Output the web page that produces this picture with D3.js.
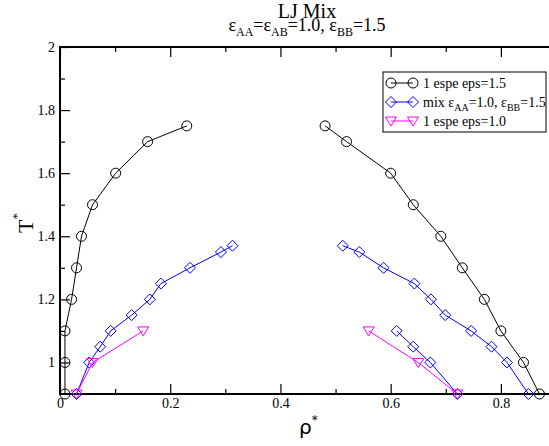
<!DOCTYPE html>
<html>
<head>
<meta charset="utf-8">
<script src="https://cdn.jsdelivr.net/npm/d3@7"></script>
<style>
  body { margin: 0; background: #fff; }
  svg { display: block; }
</style>
</head>
<body>
<div id="chart"></div>
<script>
// ticks
const xMajorTicks = [0, 0.2, 0.4, 0.6, 0.8];
const xMinorTicks = [0.1, 0.3, 0.5, 0.7];
const yMajorTicks = [1, 1.2, 1.4, 1.6, 1.8, 2];
const yMinorTicks = [1.1, 1.3, 1.5, 1.7, 1.9];

// 1 espe eps=1.5 (vapour / liquid branches)
const rhoEps15Low  = [0.009, 0.009, 0.009, 0.021, 0.030, 0.039, 0.059, 0.101, 0.159, 0.230];
const tEps15Low    = [0.90, 1.00, 1.10, 1.20, 1.30, 1.40, 1.50, 1.60, 1.70, 1.75];
const rhoEps15High = [0.481, 0.520, 0.600, 0.641, 0.691, 0.730, 0.770, 0.800, 0.841, 0.870];
const tEps15High   = [1.75, 1.70, 1.60, 1.50, 1.40, 1.30, 1.20, 1.10, 1.00, 0.90];

// mix eps_AA=1.0, eps_BB=1.5
const rhoMixLow   = [0.030, 0.053, 0.073, 0.092, 0.130, 0.163, 0.183, 0.236, 0.292, 0.313];
const tMixLow     = [0.90, 1.00, 1.05, 1.10, 1.15, 1.20, 1.25, 1.30, 1.35, 1.37];
const rhoMixHigh  = [0.513, 0.543, 0.587, 0.643, 0.673, 0.699, 0.746, 0.783, 0.811, 0.850];
const tMixHigh    = [1.37, 1.35, 1.30, 1.25, 1.20, 1.15, 1.10, 1.05, 1.00, 0.90];
const rhoMixHigh2 = [0.611, 0.641, 0.672, 0.721];
const tMixHigh2   = [1.10, 1.05, 1.00, 0.90];

// 1 espe eps=1.0
const rhoEps10Low  = [0.030, 0.059, 0.151];
const tEps10Low    = [0.90, 1.00, 1.10];
const rhoEps10High = [0.560, 0.650, 0.721];
const tEps10High   = [1.10, 1.00, 0.90];

const zip = (xs, ys) => xs.map((v, i) => ({ rho: v, t: ys[i] }));

const series = [
    { color: "#000000", symbol: "circle",
      branches: [zip(rhoEps15Low, tEps15Low), zip(rhoEps15High, tEps15High)] },
    { color: "#0000ff", symbol: "diamond",
      branches: [zip(rhoMixLow, tMixLow), zip(rhoMixHigh, tMixHigh), zip(rhoMixHigh2, tMixHigh2)] },
    { color: "#ff00ff", symbol: "triangle",
      branches: [zip(rhoEps10Low, tEps10Low), zip(rhoEps10High, tEps10High)] }
];

const W = 549, H = 446;
const margin = { left: 60, top: 47, right: 556, bottom: 394 }; // plot box edges (right edge falls outside the window)

const svg = d3.select("#chart").append("svg")
    .attr("width", W).attr("height", H)
    .style("font-family", "'Liberation Serif', 'Times New Roman', serif");

const x = d3.scaleLinear().domain([0, 0.9]).range([margin.left, margin.right]);
const y = d3.scaleLinear().domain([0.9, 2]).range([margin.bottom, margin.top]);

// 坐标轴 (ticks pointing inward)
const styleAxis = g => {
    g.select(".domain").remove();
    g.selectAll(".tick line").attr("stroke", "#000").attr("stroke-width", 1.2);
    g.selectAll(".tick text").attr("fill", "#000").style("font-size", "14px")
        .style("font-family", "'Liberation Serif', serif");
};

svg.append("g").attr("transform", `translate(0,${margin.bottom})`)
    .call(d3.axisBottom(x).tickValues(xMajorTicks).tickSizeInner(-10).tickSizeOuter(0)
        .tickPadding(4).tickFormat(d3.format("")))
    .call(styleAxis);
svg.append("g").attr("transform", `translate(0,${margin.bottom})`)
    .call(d3.axisBottom(x).tickValues(xMinorTicks).tickSizeInner(-5).tickSizeOuter(0).tickFormat(""))
    .call(styleAxis);
svg.append("g").attr("transform", `translate(0,${margin.top})`)
    .call(d3.axisTop(x).tickValues(xMajorTicks).tickSizeInner(-10).tickSizeOuter(0).tickFormat(""))
    .call(styleAxis);
svg.append("g").attr("transform", `translate(0,${margin.top})`)
    .call(d3.axisTop(x).tickValues(xMinorTicks).tickSizeInner(-5).tickSizeOuter(0).tickFormat(""))
    .call(styleAxis);
svg.append("g").attr("transform", `translate(${margin.left},0)`)
    .call(d3.axisLeft(y).tickValues(yMajorTicks).tickSizeInner(-10).tickSizeOuter(0)
        .tickPadding(5).tickFormat(d3.format("")))
    .call(styleAxis);
svg.append("g").attr("transform", `translate(${margin.left},0)`)
    .call(d3.axisLeft(y).tickValues(yMinorTicks).tickSizeInner(-5).tickSizeOuter(0).tickFormat(""))
    .call(styleAxis);

// frame
svg.append("rect")
    .attr("x", margin.left).attr("y", margin.top)
    .attr("width", margin.right - margin.left).attr("height", margin.bottom - margin.top)
    .attr("fill", "none").attr("stroke", "#000").attr("stroke-width", 2);

// symbols
const drawSymbol = (g, type, color, cx, cy) => {
    if (type === "circle") {
        g.append("circle").attr("cx", cx).attr("cy", cy).attr("r", 5)
            .attr("fill", "none").attr("stroke", color).attr("stroke-width", 1);
    } else if (type === "diamond") {
        g.append("path").attr("transform", `translate(${cx},${cy})`)
            .attr("d", "M0,-5.5L5.5,0L0,5.5L-5.5,0Z")
            .attr("fill", "none").attr("stroke", color).attr("stroke-width", 1);
    } else {
        g.append("path").attr("transform", `translate(${cx},${cy})`)
            .attr("d", "M-5.5,-4L5.5,-4L0,5Z")
            .attr("fill", "none").attr("stroke", color).attr("stroke-width", 1);
    }
};

const line = d3.line().x(d => x(d.rho)).y(d => y(d.t));
const plot = svg.append("g");
series.forEach(s => {
    s.branches.forEach(b => {
        plot.append("path").datum(b).attr("d", line)
            .attr("fill", "none").attr("stroke", s.color).attr("stroke-width", 1);
        b.forEach(d => drawSymbol(plot, s.symbol, s.color, x(d.rho), y(d.t)));
    });
});

// 标题
svg.append("text").attr("x", 307).attr("y", 18)
    .attr("text-anchor", "middle").style("font-size", "20px").text("LJ Mix");
const sub = svg.append("text").attr("x", 307).attr("y", 31)
    .attr("text-anchor", "middle").style("font-size", "18px");
[["ε", ""], ["AA", "s"], ["=ε", ""], ["AB", "s"], ["=1.0, ε", ""], ["BB", "s"], ["=1.5", ""]].forEach(([t, k], i, arr) => {
    const ts = sub.append("tspan").text(t);
    if (k === "s") ts.style("font-size", "12px").attr("dy", 5);
    else if (i > 0 && arr[i - 1][1] === "s") ts.attr("dy", -5);
});

// axis titles
const xt = svg.append("text").attr("x", 299).attr("y", 434)
    .style("font-family", "'DejaVu Sans', sans-serif").style("font-size", "20px");
xt.append("tspan").text("ρ");
xt.append("tspan").text("*").style("font-size", "12px").attr("dy", -10);

const yt = svg.append("text").attr("transform", "translate(33,223) rotate(-90)")
    .attr("text-anchor", "middle").style("font-size", "22px");
yt.append("tspan").text("T");
yt.append("tspan").text("*").style("font-size", "13px").attr("dy", -12);

// legend
const legend = svg.append("g");
legend.append("rect").attr("x", 383).attr("y", 72).attr("width", 163).attr("height", 60)
    .attr("fill", "#fff").attr("stroke", "#000").attr("stroke-width", 1);
const legendRows = [
    { y: 83, parts: [["1 espe eps=1.5", ""]] },
    { y: 102, parts: [["mix ε", ""], ["AA", "s"], ["=1.0, ε", ""], ["BB", "s"], ["=1.5", ""]] },
    { y: 121, parts: [["1 espe eps=1.0", ""]] }
];
legendRows.forEach((row, i) => {
    const s = series[i];
    legend.append("line").attr("x1", 391).attr("x2", 413).attr("y1", row.y).attr("y2", row.y)
        .attr("stroke", s.color).attr("stroke-width", 1);
    drawSymbol(legend, s.symbol, s.color, 391, row.y);
    drawSymbol(legend, s.symbol, s.color, 413, row.y);
    const txt = legend.append("text").attr("x", 423).attr("y", row.y + 5).style("font-size", "14px");
    row.parts.forEach(([t, k], j, arr) => {
        const ts = txt.append("tspan").text(t);
        if (k === "s") ts.style("font-size", "10px").attr("dy", 4);
        else if (j > 0 && arr[j - 1][1] === "s") ts.attr("dy", -4);
    });
});
</script>
</body>
</html>
